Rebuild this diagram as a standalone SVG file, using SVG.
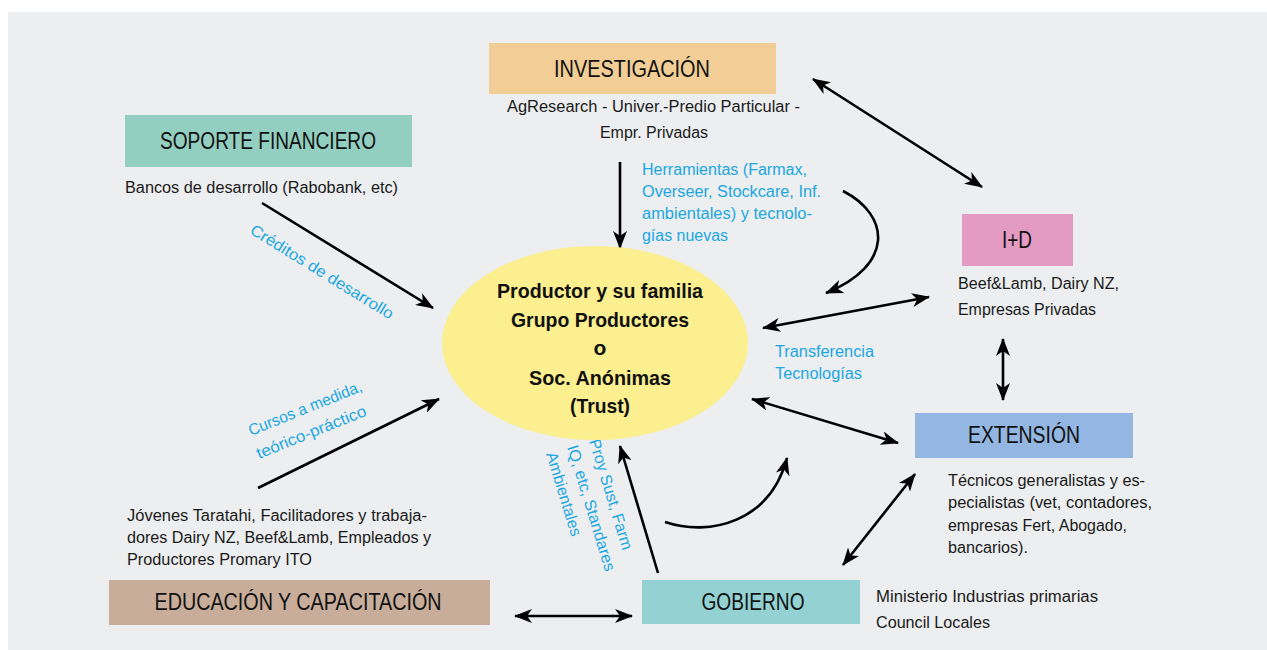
<svg xmlns="http://www.w3.org/2000/svg" width="1267" height="650" viewBox="0 0 1267 650">
<defs>
<marker id="ah" markerUnits="userSpaceOnUse" markerWidth="18" markerHeight="14" refX="17" refY="7" orient="auto-start-reverse">
<path d="M0,0 L18,7 L0,14 L5,7 Z" fill="#000"/>
</marker>
<style>
.t{font-family:"Liberation Sans",Arial,sans-serif;font-size:16px;fill:#1a1a1a}
.b{font-family:"Liberation Sans",Arial,sans-serif;font-size:16px;fill:#1ba7e1}
.h{font-family:"Liberation Sans",Arial,sans-serif;font-size:23px;fill:#111;text-anchor:middle}
.e{font-family:"Liberation Sans",Arial,sans-serif;font-size:21px;font-weight:bold;fill:#111;text-anchor:middle}
.c{fill:none;stroke:#000;stroke-width:2.6}
</style>
</defs>
<rect x="0" y="0" width="1267" height="650" fill="#fff"/>
<rect x="8" y="12" width="1259" height="638" fill="#eceef0"/>

<g id="connectors">
<line class="c" x1="620" y1="162" x2="620" y2="248" marker-end="url(#ah)"/>
<line class="c" x1="262" y1="203" x2="433" y2="308" marker-end="url(#ah)"/>
<line class="c" x1="258" y1="488" x2="439" y2="399" marker-end="url(#ah)"/>
<path class="c" d="M843,191 C890,215 895,265 826,293" marker-end="url(#ah)"/>
<line class="c" x1="813" y1="79" x2="982" y2="187" marker-start="url(#ah)" marker-end="url(#ah)"/>
<line class="c" x1="763" y1="328" x2="929" y2="297" marker-start="url(#ah)" marker-end="url(#ah)"/>
<line class="c" x1="752" y1="399" x2="898" y2="443" marker-start="url(#ah)" marker-end="url(#ah)"/>
<line class="c" x1="1003" y1="339" x2="1003" y2="400" marker-start="url(#ah)" marker-end="url(#ah)"/>
<line class="c" x1="843" y1="565" x2="915" y2="474" marker-start="url(#ah)" marker-end="url(#ah)"/>
<line class="c" x1="658" y1="573" x2="620" y2="446" marker-end="url(#ah)"/>
<path class="c" d="M665,522 C710,537 770,522 787,458" marker-end="url(#ah)"/>
<line class="c" x1="515" y1="616" x2="632" y2="616" marker-start="url(#ah)" marker-end="url(#ah)"/>
<text class="b" transform="translate(249,233) rotate(31.7)" textLength="165" lengthAdjust="spacingAndGlyphs">Créditos de desarrollo</text>
<text class="b" transform="translate(251,436) rotate(-22)" textLength="121" lengthAdjust="spacingAndGlyphs">Cursos a medida,</text>
<text class="b" transform="translate(259,459) rotate(-22)" textLength="117" lengthAdjust="spacingAndGlyphs">teórico-práctico</text>
<text class="b" transform="translate(589,441) rotate(73)" textLength="115" lengthAdjust="spacingAndGlyphs">Proy Sust, Farm</text>
<text class="b" transform="translate(567,447) rotate(73)" textLength="131" lengthAdjust="spacingAndGlyphs">IQ, etc, Standares</text>
<text class="b" transform="translate(546,454) rotate(73)" textLength="87" lengthAdjust="spacingAndGlyphs">Ambientales</text>
<text class="b" x="642" y="175" textLength="165" lengthAdjust="spacingAndGlyphs">Herramientas (Farmax,</text>
<text class="b" x="642" y="197" textLength="179" lengthAdjust="spacingAndGlyphs">Overseer, Stockcare, Inf.</text>
<text class="b" x="642" y="219" textLength="170" lengthAdjust="spacingAndGlyphs">ambientales) y tecnolo-</text>
<text class="b" x="642" y="241" textLength="86" lengthAdjust="spacingAndGlyphs">gías nuevas</text>
<text class="b" x="775" y="357" textLength="99" lengthAdjust="spacingAndGlyphs">Transferencia</text>
<text class="b" x="775" y="379" textLength="87" lengthAdjust="spacingAndGlyphs">Tecnologías</text>
</g>

<g id="investigacion">
<rect x="489" y="43" width="287" height="51" fill="#f2ce96"/>
<text class="h" x="632" y="77" textLength="156" lengthAdjust="spacingAndGlyphs">INVESTIGACIÓN</text>
<text class="t" x="507" y="112" textLength="293" lengthAdjust="spacingAndGlyphs">AgResearch - Univer.-Predio Particular -</text>
<text class="t" x="600" y="138" textLength="108" lengthAdjust="spacingAndGlyphs">Empr. Privadas</text>
</g>

<g id="soporte">
<rect x="125" y="115" width="287" height="52" fill="#93cfc0"/>
<text class="h" x="268" y="149" textLength="216" lengthAdjust="spacingAndGlyphs">SOPORTE FINANCIERO</text>
<text class="t" x="125" y="193" textLength="273" lengthAdjust="spacingAndGlyphs">Bancos de desarrollo (Rabobank, etc)</text>
</g>

<g id="productor">
<ellipse cx="595" cy="343" rx="153" ry="97" fill="#fbef90"/>
<text class="e" x="600" y="298" textLength="206" lengthAdjust="spacingAndGlyphs">Productor y su familia</text>
<text class="e" x="600" y="327" textLength="178" lengthAdjust="spacingAndGlyphs">Grupo Productores</text>
<text class="e" x="600" y="355">o</text>
<text class="e" x="600" y="385" textLength="142" lengthAdjust="spacingAndGlyphs">Soc. Anónimas</text>
<text class="e" x="600" y="413" textLength="60" lengthAdjust="spacingAndGlyphs">(Trust)</text>
</g>

<g id="imasd">
<rect x="962" y="214" width="111" height="52" fill="#e39bc3"/>
<text class="h" x="1017" y="248" textLength="30" lengthAdjust="spacingAndGlyphs">I+D</text>
<text class="t" x="958" y="289" textLength="161" lengthAdjust="spacingAndGlyphs">Beef&amp;Lamb, Dairy NZ,</text>
<text class="t" x="958" y="315" textLength="138" lengthAdjust="spacingAndGlyphs">Empresas Privadas</text>
</g>

<g id="extension">
<rect x="915" y="413" width="218" height="45" fill="#93b6e2"/>
<text class="h" x="1024" y="443" textLength="112" lengthAdjust="spacingAndGlyphs">EXTENSIÓN</text>
<text class="t" x="948" y="486" textLength="197" lengthAdjust="spacingAndGlyphs">Técnicos generalistas y es-</text>
<text class="t" x="948" y="508" textLength="204" lengthAdjust="spacingAndGlyphs">pecialistas (vet, contadores,</text>
<text class="t" x="948" y="531" textLength="179" lengthAdjust="spacingAndGlyphs">empresas Fert, Abogado,</text>
<text class="t" x="948" y="553" textLength="80" lengthAdjust="spacingAndGlyphs">bancarios).</text>
</g>

<g id="gobierno">
<rect x="642" y="580" width="218" height="44" fill="#93d1d3"/>
<text class="h" x="753" y="610" textLength="103" lengthAdjust="spacingAndGlyphs">GOBIERNO</text>
<text class="t" x="876" y="602" textLength="222" lengthAdjust="spacingAndGlyphs">Ministerio Industrias primarias</text>
<text class="t" x="876" y="628" textLength="114" lengthAdjust="spacingAndGlyphs">Council Locales</text>
</g>

<g id="educacion">
<rect x="109" y="580" width="381" height="45" fill="#c7ad9a"/>
<text class="h" x="298" y="610" textLength="287" lengthAdjust="spacingAndGlyphs">EDUCACIÓN Y CAPACITACIÓN</text>
<text class="t" x="127" y="521" textLength="300" lengthAdjust="spacingAndGlyphs">Jóvenes Taratahi, Facilitadores y trabaja-</text>
<text class="t" x="127" y="543" textLength="304" lengthAdjust="spacingAndGlyphs">dores Dairy NZ, Beef&amp;Lamb, Empleados y</text>
<text class="t" x="127" y="565" textLength="185" lengthAdjust="spacingAndGlyphs">Productores Promary ITO</text>
</g>
</svg>
